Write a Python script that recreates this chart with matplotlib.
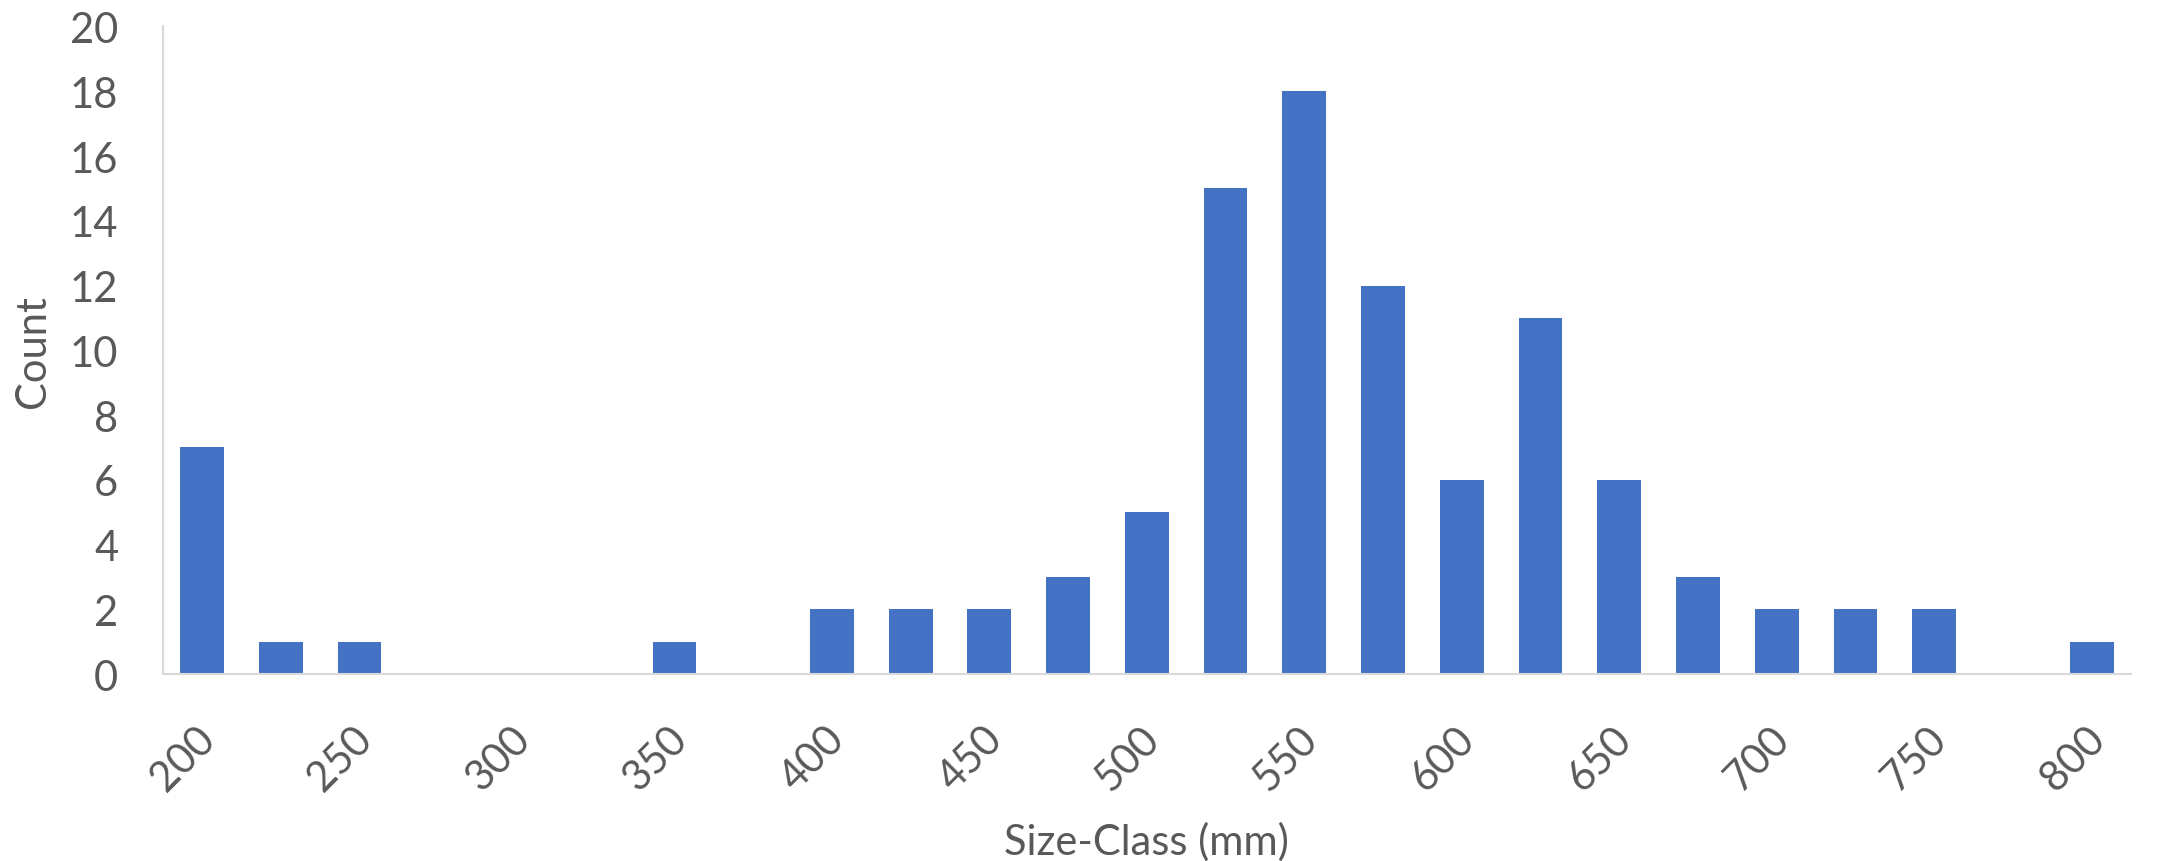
import matplotlib
matplotlib.use("Agg")
import matplotlib.pyplot as plt
import matplotlib.transforms as mtransforms

# size classes (mm) and counts per class
size_class = [200, 225, 250, 275, 300, 325, 350, 375, 400, 425, 450, 475, 500,
              525, 550, 575, 600, 625, 650, 675, 700, 725, 750, 775, 800]
counts = [7, 1, 1, 0, 0, 0, 1, 0, 2, 2, 2, 3, 5,
          15, 18, 12, 6, 11, 6, 3, 2, 2, 2, 0, 1]
y_ticks = [0, 2, 4, 6, 8, 10, 12, 14, 16, 18, 20]

bar_color = "#4472C4"
text_color = "#595959"
axis_color = "#D9D9D9"

plt.rcParams['font.family'] = ['Lato', 'DejaVu Sans']

fig = plt.figure(figsize=(21.6, 8.62), dpi=100)
ax = fig.add_axes([0.0753, 0.2169, 0.9113, 0.7512])

pos = list(range(len(size_class)))
ax.bar(pos, counts, width=0.556, color=bar_color, zorder=2)

ax.set_xlim(-0.5, len(size_class) - 0.5)
ax.set_ylim(0, 20)
ax.set_yticks(y_ticks)

# Excel shows every other category label
ax.set_xticks(pos[::2])
ax.set_xticklabels([str(s) for s in size_class[::2]], rotation=45,
                   ha='right', va='top')

ax.tick_params(axis='both', length=0, labelsize=30, labelcolor=text_color)
ax.tick_params(axis='y', pad=32)
ax.tick_params(axis='x', pad=32)

shift = mtransforms.ScaledTranslation(0.20, 0, fig.dpi_scale_trans)
for lab in ax.get_xticklabels():
    lab.set_transform(lab.get_transform() + shift)

for side in ['top', 'right']:
    ax.spines[side].set_visible(False)
for side in ['left', 'bottom']:
    ax.spines[side].set_color(axis_color)
    ax.spines[side].set_linewidth(1.5)

ax.set_ylabel('Count', fontsize=30, color=text_color, va='center')
ax.yaxis.set_label_coords(-0.0658, 0.5)
ax.set_xlabel('Size-Class (mm)', fontsize=30, color=text_color, va='center')
ax.xaxis.set_label_coords(0.5, -0.258)

fig.savefig('out.png', dpi=100)
